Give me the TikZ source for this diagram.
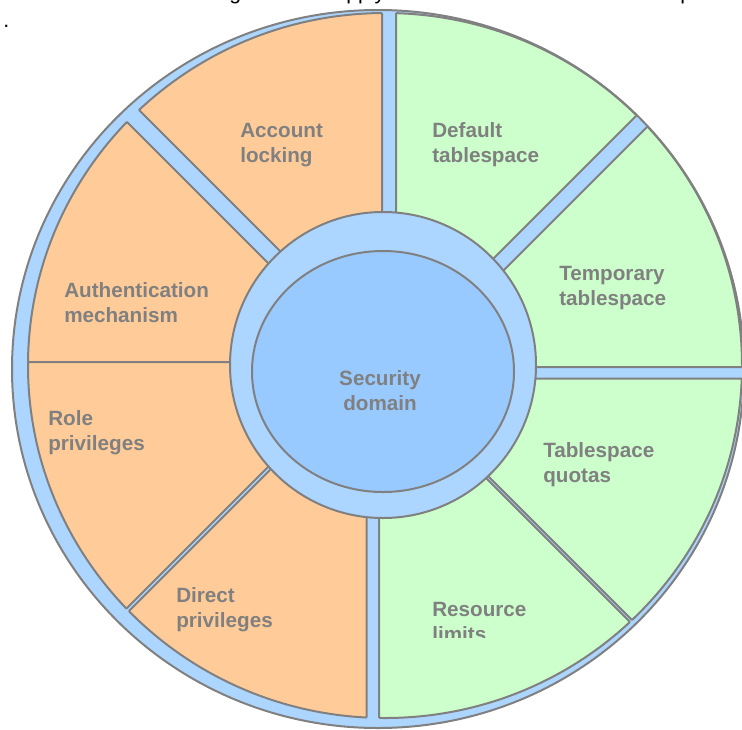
\documentclass[tikz,border=0pt]{standalone}
\usepackage{fontspec}
\setmainfont{Liberation Sans}
\definecolor{ringblue}{RGB}{172,213,255}
\definecolor{coreblue}{RGB}{153,202,255}
\definecolor{segorange}{RGB}{255,204,153}
\definecolor{seggreen}{RGB}{204,255,204}
\definecolor{edgegray}{RGB}{128,128,128}
\definecolor{labelgray}{RGB}{128,128,128}
\newcommand\mkseg[4]{%
  \begin{scope}
    \clip (385,365.5) ellipse [x radius=357, y radius=352.5];
    \filldraw[fill=#1, edge] #2 -- #3 -- #4 -- cycle;
  \end{scope}
  \begin{scope}
    \clip #2 -- #3 -- #4 -- cycle;
    \draw[edge] (385,365.5) ellipse [x radius=357, y radius=352.5];
  \end{scope}}
\begin{document}
\begin{tikzpicture}[x=0.75pt,y=-0.75pt,
  edge/.style={draw=edgegray, line width=1.5pt},
  seglabel/.style={font=\fontsize{15.5}{18.75}\selectfont\bfseries, text=labelgray, align=left, inner sep=0pt, anchor=north west},
  bodytext/.style={font=\fontsize{16}{19}\selectfont, text=black, inner sep=0pt, anchor=base west}]
\useasboundingbox (0,0) rectangle (742,729);

% fragments of the surrounding text
\begin{scope}
  \clip (0,0) rectangle (742,40);
  \node[bodytext] (fragg) at (229,-0.5) {g};
  \node[bodytext] (fragpply) at (346,-0.5) {pply};
  \node[bodytext] (fragp) at (680,-0.5) {p};
  \node[bodytext] (dot) at (3,27) {.};
\end{scope}

% outer ring
\filldraw[fill=ringblue, edge] (378,369) ellipse [x radius=366, y radius=359];

% segments (orange, left half)
\mkseg{segorange}{(382,353)}{(382,-500)}{(-500,-529)}
\mkseg{segorange}{(367,362)}{(-500,-505)}{(-500,362)}
\mkseg{segorange}{(373,362)}{(-500,362)}{(-500,1235)}
\mkseg{segorange}{(366.5,373.5)}{(-500,1240)}{(366.5,1300)}
% segments (green, right half)
\mkseg{seggreen}{(379,371)}{(379,1300)}{(1300,1292)}
\mkseg{seggreen}{(390.5,378.5)}{(1300,1288)}{(1300,378.5)}
\mkseg{seggreen}{(407,367)}{(1300,367)}{(1300,-526)}
\mkseg{seggreen}{(396,356)}{(1300,-548)}{(396,-500)}

% inner ring and core
\filldraw[fill=ringblue, edge] (383,365) circle [radius=153];
\filldraw[fill=coreblue, edge] (383,371.5) ellipse [x radius=131, y radius=120.5];

% labels
\node[seglabel] (acct) at (240,123) {Account\\locking};
\node[seglabel] (deflt) at (432,122) {Default\\tablespace};
\node[seglabel] (auth) at (64,282) {Authentication\\mechanism};
\node[seglabel] (temp) at (559,266) {Temporary\\tablespace};
\node[seglabel, align=center, anchor=north] (core) at (380,370) {Security\\domain};
\node[seglabel] (role) at (48,410) {Role\\privileges};
\node[seglabel] (quota) at (543,442) {Tablespace\\quotas};
\node[seglabel] (direct) at (176,587) {Direct\\privileges};
\begin{scope}
  \clip (400,580) rectangle (560,637);
  \node[seglabel] (res) at (432,602) {Resource\\limits};
\end{scope}
\end{tikzpicture}
\end{document}
